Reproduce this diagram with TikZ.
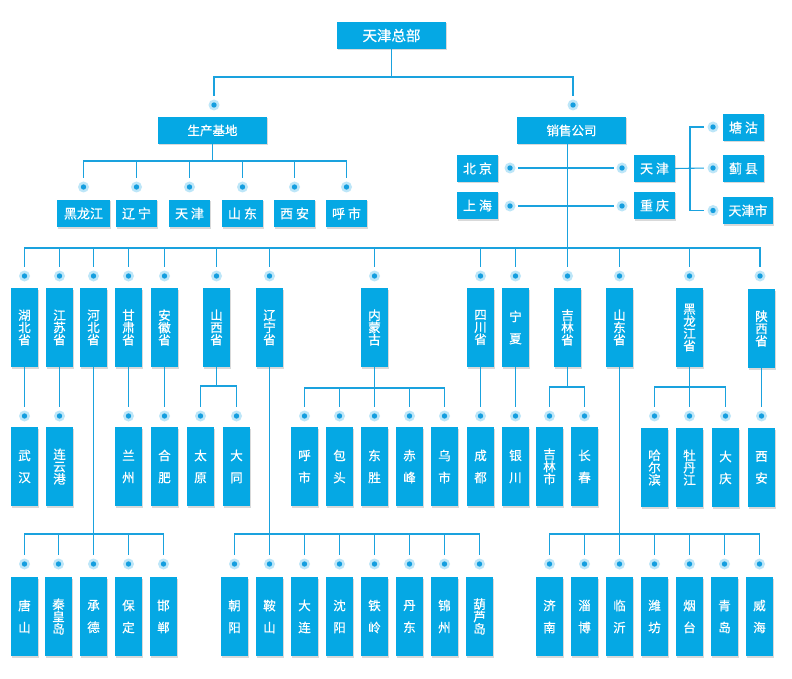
\documentclass[tikz,border=0pt]{standalone}
\usepackage{fontspec}
\setmainfont{Noto Sans CJK SC}[FakeBold=0.6]
\usetikzlibrary{shadows}
\definecolor{boxblue}{HTML}{05A8E4}
\definecolor{lineblue}{HTML}{1AA2DE}
\definecolor{dotout}{HTML}{BDE6F8}
\definecolor{dotin}{HTML}{159EDF}
\tikzset{
  shd/.style={drop shadow={shadow xshift=1.3pt,shadow yshift=-1.5pt,opacity=0.15,fill=black}},
  hb/.style={fill=boxblue,text=white,inner sep=0pt,minimum height=27pt,font=\fontsize{13}{13}\selectfont,shd},
  vb/.style={fill=boxblue,text=white,inner sep=0pt,minimum width=27pt,minimum height=79pt,align=center,font=\fontsize{12.5}{12.3}\selectfont,shd},
  vsp/.style={vb,font=\fontsize{12.5}{22}\selectfont},
  dot/.style={circle,fill=dotout,minimum size=11pt,inner sep=0pt,
    path picture={\fill[dotin] (path picture bounding box.center) circle (2.7pt);}},
  conn/.style={draw=lineblue,line width=1.1pt},
  sh/.style={shorten <=3.5pt,shorten >=3.5pt},
  she/.style={shorten >=3.5pt}
}
\begin{document}
\begin{tikzpicture}[x=1pt,y=-1pt]
\useasboundingbox (0,0) rectangle (792,679);
\fill[white] (0,0) rectangle (792,679);
% ---------- top level
\node[hb,minimum width=109pt,font=\fontsize{14.5}{14.5}\selectfont] (hq) at (391.5,35.5) {天津总部};
\node[hb,minimum width=109pt,font=\fontsize{12.5}{12.5}\selectfont] (prod) at (212.5,130.5) {生产基地};
\node[hb,minimum width=109pt,font=\fontsize{12.5}{12.5}\selectfont] (sales) at (571.5,130.5) {销售公司};
\node[dot] (dprod) at (214,105) {};
\node[dot] (dsales) at (573,105) {};
\coordinate (bar0) at (0,77);
\draw[conn] (hq.south) -- (hq.south |- bar0);
\draw[conn,sh] (dprod.north) |- (dsales |- bar0) -- (dsales.north);
% ---------- production
\coordinate (bar1) at (0,161);
\foreach \n/\x/\w/\t in {pa/83.5/53/黑龙江,pb/136.5/41/辽 宁,pc/189.5/41/天 津,pd/242.5/41/山 东,pe/294.5/41/西 安,pf/346.5/41/呼 市}{
  \node[hb,minimum width=\w pt] (\n) at (\x,213.5) {\t};
  \node[dot] (d\n) at (\x,187) {};
}
\draw[conn] (prod.south) -- (prod.south |- bar1);
\draw[conn,sh] (dpa.north) |- (dpf |- bar1) -- (dpf.north);
\foreach \n in {pb,pc,pd,pe} \draw[conn,she] (d\n |- bar1) -- (d\n.north);
% ---------- sales offices
\node[hb,minimum width=41pt] (bj) at (477.5,168.5) {北 京};
\node[hb,minimum width=41pt] (shh) at (477.5,205.5) {上 海};
\node[hb,minimum width=41pt] (tj) at (654.5,168.5) {天 津};
\node[hb,minimum width=41pt] (cq) at (654.5,205.5) {重 庆};
\node[dot] (dbj) at (510,168) {};
\node[dot] (dtj) at (622,168) {};
\node[dot] (dshh) at (510,206) {};
\node[dot] (dcq) at (622,206) {};
\draw[conn,shorten <=2.5pt,shorten >=2pt] (dbj.east) -- (dtj.west);
\draw[conn,shorten <=2.5pt,shorten >=2pt] (dshh.east) -- (dcq.west);
\node[hb,minimum width=41pt] (tg) at (743.5,127.5) {塘 沽};
\node[hb,minimum width=41pt] (jx) at (743.5,168.5) {蓟 县};
\node[hb,minimum width=50pt] (tjs) at (748,210.5) {天津市};
\node[dot] (dtg) at (713,127) {};
\node[dot] (djx) at (713,168) {};
\node[dot] (dtjs) at (713,210.5) {};
\coordinate (brk) at (690,0);
\draw[conn,she] (tj.east) -- (djx.west);
\draw[conn,sh] (dtg.west) -| (brk |- djx) |- (dtjs.west);
% ---------- provinces (row 2)
\coordinate (bar2) at (0,248);
\foreach \n/\x/\t in {hub/24.5/湖\\北\\省,js/59.5/江\\苏\\省,heb/93.5/河\\北\\省,gs/128.5/甘\\肃\\省,ah/164.5/安\\徽\\省,sx/216.5/山\\西\\省,ln/269.5/辽\\宁\\省,nm/374.5/内\\蒙\\古,sc/480.5/四\\川\\省,jl/567.5/吉\\林\\省,sd/619.5/山\\东\\省,hlj/689.5/黑\\龙\\江\\省}{
  \node[vb] (\n) at (\x,327.5) {\t};
  \node[dot] (d\n) at (\x,276) {};
}
\node[vsp] (nx) at (515.5,327.5) {宁\\夏};
\node[dot] (dnx) at (515.5,276) {};
\node[vb] (sxi) at (761.5,328.5) {陕\\西\\省};
\node[dot] (dsxi) at (760,276) {};
\draw[conn,sh] (dhub.north) |- (dsxi |- bar2) -- (dsxi.north);
\foreach \n in {js,heb,gs,ah,sx,ln,nm,sc,nx,sd,hlj} \draw[conn,she] (d\n |- bar2) -- (d\n.north);
\draw[conn,she] (sales.south -| djl) -- (djl.north);
% ---------- cities (row 3)
\foreach \n/\x/\t in {wh/24.5/武\\汉,lz/128.5/兰\\州,hf/164.5/合\\肥,ty/200.5/太\\原,dt/236.5/大\\同,hs/304.5/呼\\市,bt/339.5/包\\头,ds/374.5/东\\胜,cf/409.5/赤\\峰,ws/444.5/乌\\市,cd/480.5/成\\都,yc/515.5/银\\川,cc/584.5/长\\春}{
  \node[vsp] (\n) at (\x,466.5) {\t};
  \node[dot] (d\n) at (\x,416) {};
}
\foreach \n/\x/\t in {lyg/59.5/连\\云\\港,jls/549.5/吉\\林\\市}{
  \node[vb] (\n) at (\x,466.5) {\t};
  \node[dot] (d\n) at (\x,416) {};
}
\foreach \n/\x/\t in {hrb/654.5/哈\\尔\\滨,mdj/689.5/牡\\丹\\江}{
  \node[vb] (\n) at (\x,467.5) {\t};
  \node[dot] (d\n) at (\x,416) {};
}
\foreach \n/\x/\t in {dq/725.5/大\\庆,xa/761.5/西\\安}{
  \node[vsp] (\n) at (\x,467.5) {\t};
  \node[dot] (d\n) at (\x,416) {};
}
% single links
\foreach \p/\c in {hub/wh,js/lyg,gs/lz,ah/hf,sc/cd,nx/yc} \draw[conn,she] (\p.south) -- (d\c.north);
\draw[conn,she] (sxi.south -| dxa) -- (dxa.north);
% grouped links
\draw[conn] (sx.south) -- (sx.south |- 0,386);
\draw[conn,sh] (dty.north) |- (ddt |- 0,386) -- (ddt.north);
\draw[conn,she] (nm.south) -- (dds.north);
\draw[conn,sh] (dhs.north) |- (dws |- 0,388) -- (dws.north);
\foreach \n in {bt,cf} \draw[conn,she] (d\n |- 0,388) -- (d\n.north);
\draw[conn] (jl.south) -- (jl.south |- 0,387);
\draw[conn,sh] (djls.north) |- (dcc |- 0,387) -- (dcc.north);
\draw[conn,she] (hlj.south) -- (dmdj.north);
\draw[conn,sh] (dhrb.north) |- (ddq |- 0,387) -- (ddq.north);
% ---------- cities (row 4)
\foreach \n/\x/\t in {ts/24.5/唐\\山,chd/93.5/承\\德,bd/128.5/保\\定,hd/163.5/邯\\郸,
  cy/234.5/朝\\阳,as/269.5/鞍\\山,dl/304.5/大\\连,sy/339.5/沈\\阳,tl/374.5/铁\\岭,dd/409.5/丹\\东,jz/444.5/锦\\州,
  jn/549.5/济\\南,zb/584.5/淄\\博,ly/619.5/临\\沂,wf/654.5/潍\\坊,yt/689.5/烟\\台,qd/724.5/青\\岛,whai/759.5/威\\海}{
  \node[vsp] (\n) at (\x,616.5) {\t};
  \node[dot] (d\n) at (\x,564) {};
}
\foreach \n/\x/\t in {qhd/58.5/秦\\皇\\岛,hld/479.5/葫\\芦\\岛}{
  \node[vb] (\n) at (\x,616.5) {\t};
  \node[dot] (d\n) at (\x,564) {};
}
\coordinate (bar4) at (0,534);
\draw[conn,she] (heb.south) -- (dchd.north);
\draw[conn,sh] (dts.north) |- (dhd |- bar4) -- (dhd.north);
\foreach \n in {qhd,bd} \draw[conn,she] (d\n |- bar4) -- (d\n.north);
\draw[conn,she] (ln.south) -- (das.north);
\draw[conn,sh] (dcy.north) |- (dhld |- bar4) -- (dhld.north);
\foreach \n in {dl,sy,tl,dd,jz} \draw[conn,she] (d\n |- bar4) -- (d\n.north);
\draw[conn,she] (sd.south) -- (dly.north);
\draw[conn,sh] (djn.north) |- (dwhai |- bar4) -- (dwhai.north);
\foreach \n in {zb,wf,yt,qd} \draw[conn,she] (d\n |- bar4) -- (d\n.north);
\end{tikzpicture}
\end{document}
